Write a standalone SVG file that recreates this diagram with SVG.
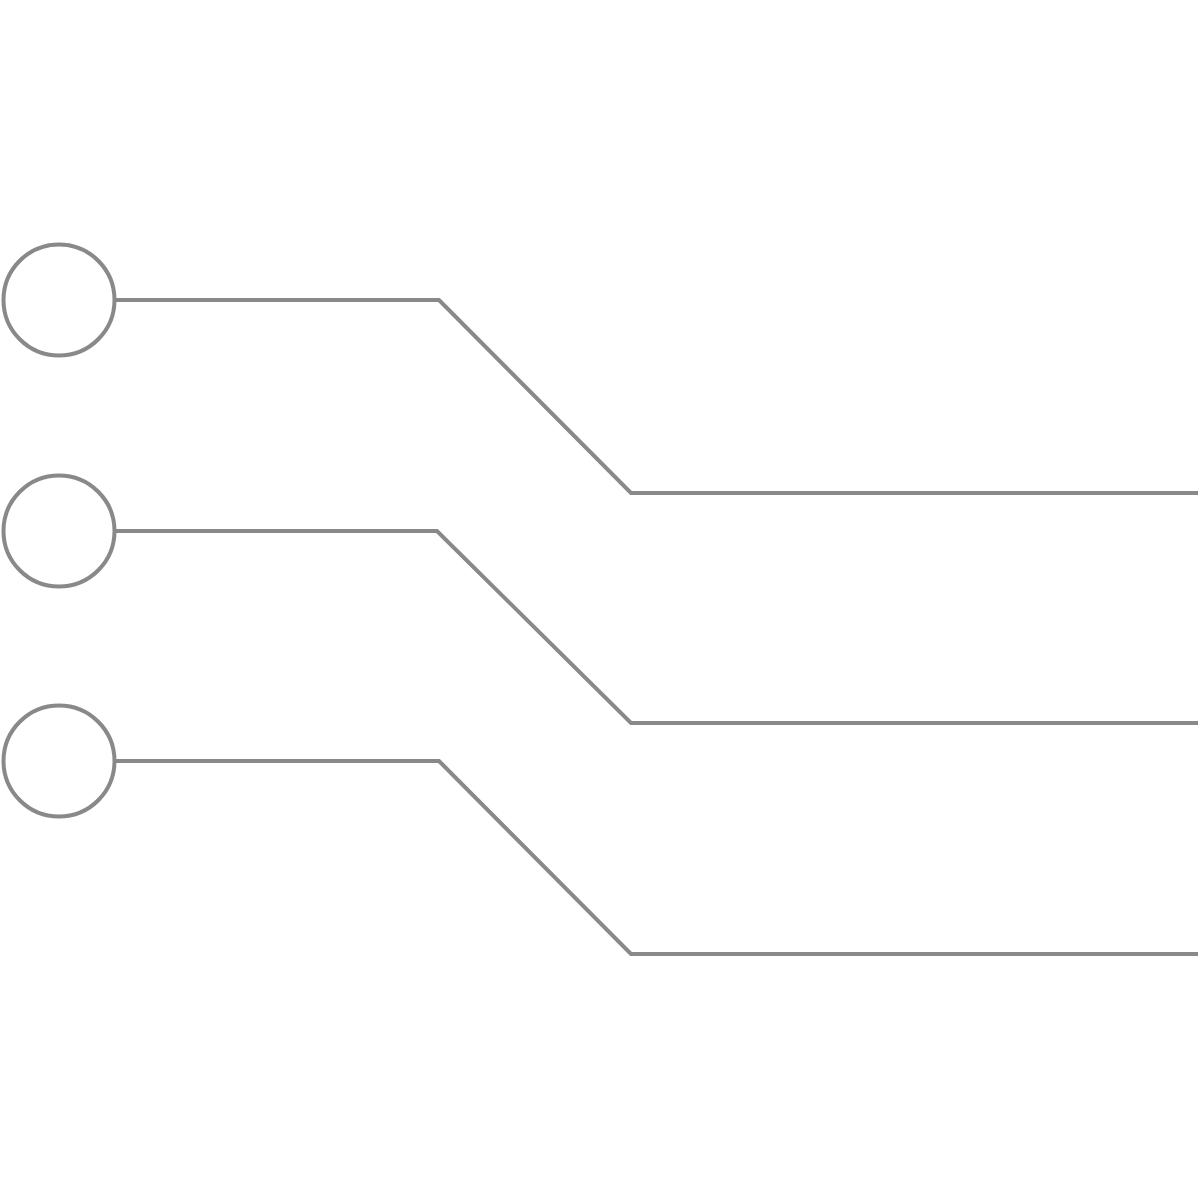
<svg xmlns="http://www.w3.org/2000/svg" width="1200" height="1200" viewBox="0 0 1200 1200">
<style>
.node{fill:none;stroke:#898989;stroke-width:4}
.conn{fill:none;stroke:#898989;stroke-width:4;stroke-linejoin:miter}
</style>
<rect width="1200" height="1200" fill="#ffffff"/>
<g id="node1"><circle class="node" cx="59" cy="300" r="55.5"/></g>
<g id="node2"><circle class="node" cx="59" cy="531" r="55.5"/></g>
<g id="node3"><circle class="node" cx="59" cy="761" r="55.5"/></g>
<g id="connectors">
<polyline class="conn" points="114,300 439,300 631,493 1198,493"/>
<polyline class="conn" points="114,531 437,531 631,723 1198,723"/>
<polyline class="conn" points="114,761 439,761 631,954 1198,954"/>
</g>
</svg>
